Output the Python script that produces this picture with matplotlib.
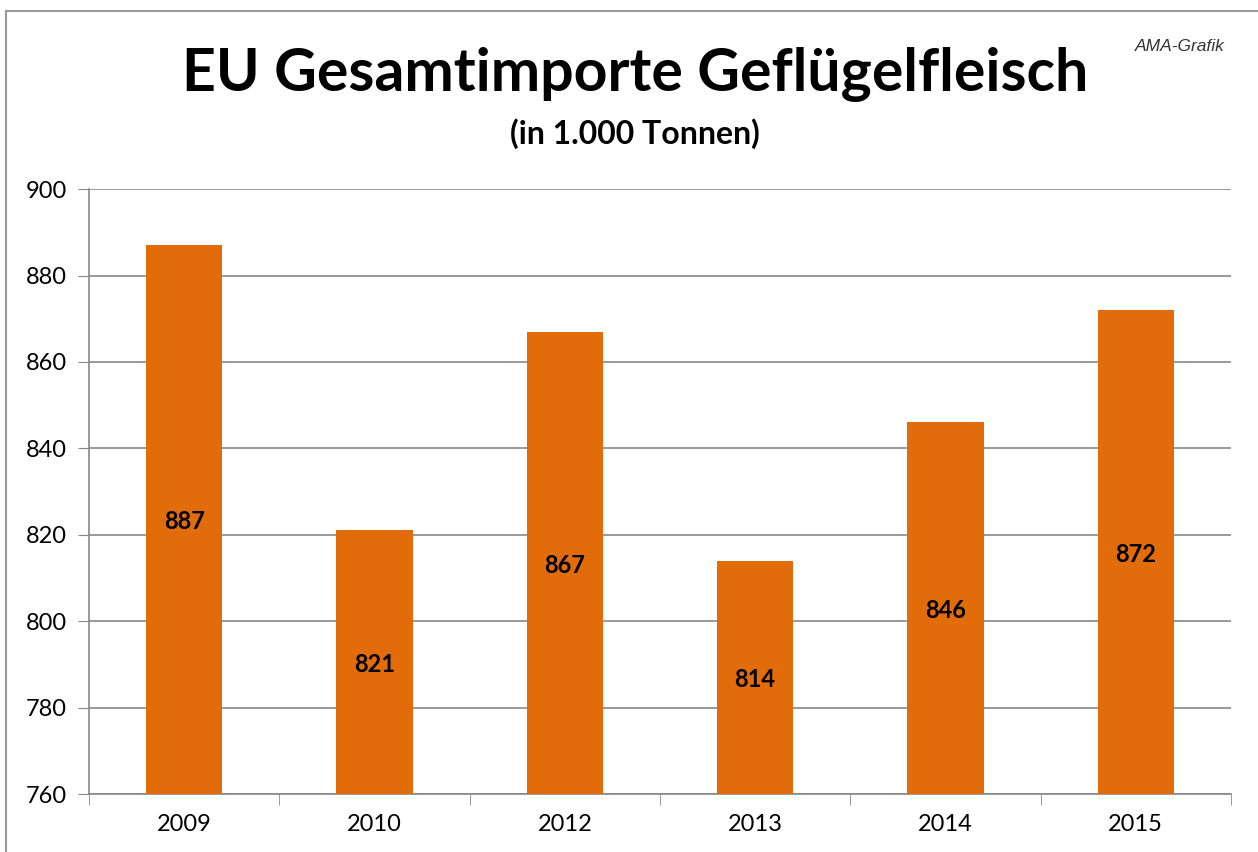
import numpy as np
import matplotlib.pyplot as plt
from matplotlib.lines import Line2D

jahre = ["2009", "2010", "2012", "2013", "2014", "2015"]
importe = [887, 821, 867, 814, 846, 872]

plt.rcParams['font.family'] = ['Lato', 'DejaVu Sans']

fig = plt.figure(figsize=(12.58, 8.52), dpi=100)
ax = fig.add_axes([0.0707, 0.068, 0.9078, 0.71])

x = np.arange(len(jahre))
balken = ax.bar(x, [v - 760 for v in importe], bottom=760, width=0.4, color='#E36C0A', zorder=3)

for xi, v in zip(x, importe):
    ax.text(xi, (760 + v) / 2 - 0.5, str(v), ha='center', va='center', fontsize=17, fontweight='bold', zorder=4)

ax.set_xlim(-0.5, len(jahre) - 0.5)
ax.set_ylim(760, 900)
ax.set_yticks(range(760, 901, 20))
ax.set_xticks(x)
ax.set_xticklabels(jahre)
ax.set_xticks(np.arange(-0.5, len(jahre), 1), minor=True)
ax.tick_params(axis='x', which='major', length=0, pad=14, labelsize=17)
ax.tick_params(axis='x', which='minor', length=8, color='#888888', direction='out')
ax.tick_params(axis='y', length=8, color='#888888', pad=8, labelsize=17)

ax.grid(axis='y', color='#888888', linewidth=1.2, zorder=0)
for s in ['top', 'right']:
    ax.spines[s].set_visible(False)
for s in ['left', 'bottom']:
    ax.spines[s].set_color('#888888')
    ax.spines[s].set_linewidth(1.2)

fig.text(0.505, 0.913, "EU Gesamtimporte Geflügelfleisch", ha='center', va='center', fontsize=42.5, fontweight='bold')
fig.text(0.505, 0.843, "(in 1.000 Tonnen)", ha='center', va='center', fontsize=23, fontweight='bold')
fig.text(0.938, 0.945, "AMA-Grafik", ha='center', va='center', fontsize=12.5, style='italic', color='#333333',
         family='Liberation Sans')

# Rahmen
fig.add_artist(Line2D([0.0048, 0.0048], [0.0, 0.987], color='#999999', linewidth=1.5, transform=fig.transFigure))
fig.add_artist(Line2D([0.0048, 1.0], [0.987, 0.987], color='#999999', linewidth=1.5, transform=fig.transFigure))

fig.savefig("out.png", dpi=100)
